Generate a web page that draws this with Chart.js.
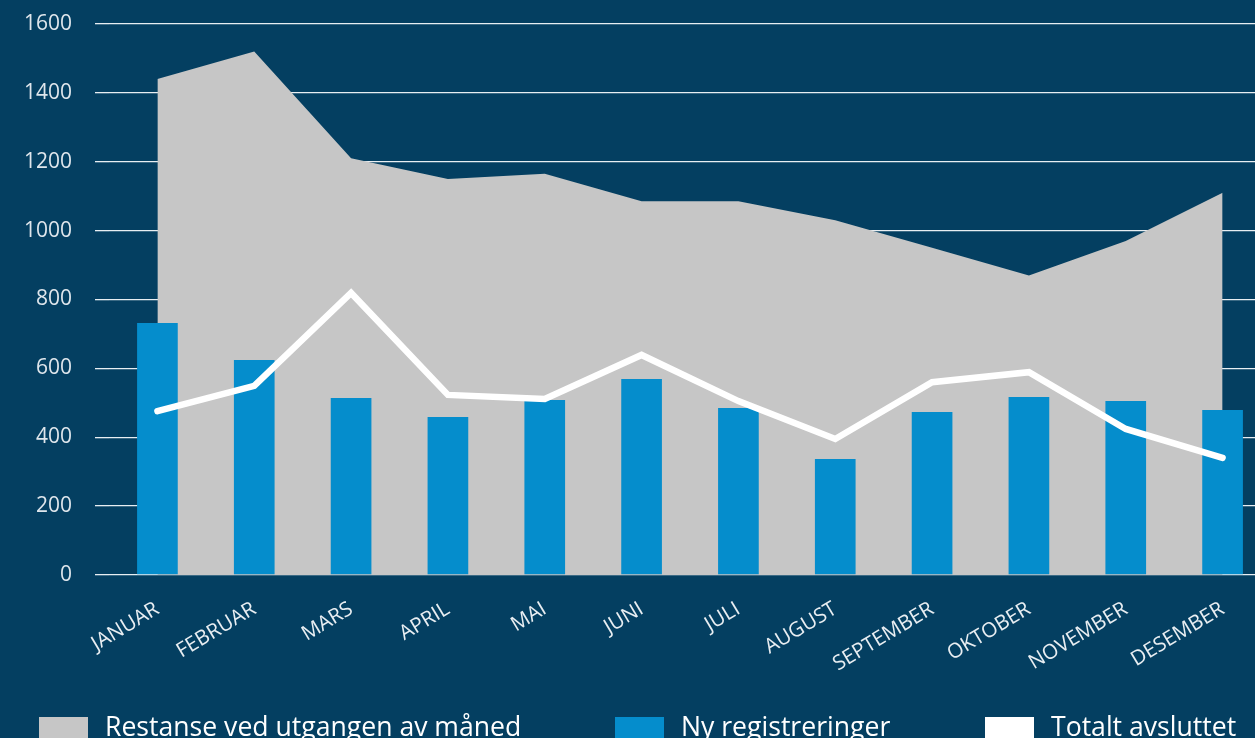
<!DOCTYPE html>
<html><head><meta charset="utf-8">
<script src="https://cdn.jsdelivr.net/npm/chart.js@4"></script>
<style>
html,body{margin:0;padding:0;background:#043f61;overflow:hidden;width:1255px;height:738px;}
#wrap{position:absolute;left:0;top:0;width:1271px;height:738px;}
#legend{position:absolute;left:0;top:0;width:1255px;height:738px;pointer-events:none;font-family:'Open Sans',sans-serif;}
.item{position:absolute;top:717px;}
.box{position:absolute;left:0;top:0;width:49px;height:24px;}
.txt{position:absolute;left:66px;top:-9.5px;font-size:26.6px;line-height:36px;white-space:nowrap;color:#ffffff;}
</style>
</head><body>
<div id="wrap"><canvas id="c" width="1271" height="738"></canvas></div>
<div id="legend"></div>
<script>
const months = ['JANUAR','FEBRUAR','MARS','APRIL','MAI','JUNI','JULI','AUGUST','SEPTEMBER','OKTOBER','NOVEMBER','DESEMBER'];
const restanse = [1440,1520,1210,1150,1165,1085,1085,1030,950,870,970,1110];
const nyRegistreringer = [732,624,514,459,508,569,485,337,473,517,505,479];
const totaltAvsluttet = [476,549,819,523,511,639,505,395,560,589,424,340];
const seriesLabels = ['Restanse ved utgangen av måned','Ny registreringer','Totalt avsluttet'];
const yTicks = [0,200,400,600,800,1000,1200,1400,1600];

const colGrey = '#c6c6c6', colBlue = '#058dcc', colWhite = '#ffffff';

const chart = new Chart(document.getElementById('c'), {
  type: 'bar',
  data: {
    labels: months,
    datasets: [
      { type:'line', label: seriesLabels[2], data: totaltAvsluttet, borderColor: colWhite, backgroundColor: colWhite,
        borderWidth: 6.5, pointRadius: 0, tension: 0, fill: false, borderCapStyle: 'round', borderJoinStyle: 'miter', order: 1 },
      { type:'bar', label: seriesLabels[1], data: nyRegistreringer, backgroundColor: colBlue, borderWidth: 0,
        barPercentage: 0.42, categoryPercentage: 1, order: 2 },
      { type:'line', label: seriesLabels[0], data: restanse, borderColor: colGrey, backgroundColor: colGrey,
        borderWidth: 0, pointRadius: 0, tension: 0, fill: 'origin', order: 3 }
    ]
  },
  options: {
    responsive: false,
    devicePixelRatio: 1,
    animation: false,
    layout: { padding: { top: 24, right: 0, bottom: 0, left: 0 } },
    plugins: { legend: { display: false }, tooltip: { enabled: false } },
    scales: {
      x: {
        grid: { display: false, drawTicks: false },
        border: { display: false },
        ticks: { color: '#e9eef2', font: { family: "'Open Sans'", size: 20.5 }, minRotation: 31, maxRotation: 31, padding: 22, autoSkip: false },
        afterFit: s => { s.height = 163; }
      },
      y: {
        min: 0, max: 1600,
        afterBuildTicks: s => { s.ticks = yTicks.map(v => ({ value: v })); },
        grid: { color: '#e8eef2', lineWidth: 1.3, tickLength: 14, drawTicks: true },
        border: { display: false },
        ticks: { color: '#dfe6ec', font: { family: "'Open Sans'", size: 21 }, padding: 23, callback: v => String(v) },
        afterFit: s => { s.width = 109; s.paddingTop = 10; s.paddingBottom = 10; }
      }
    }
  }
});

const legendColors = [colGrey, colBlue, colWhite];
const legendLeft = [39, 615, 985];
const lg = document.getElementById('legend');
seriesLabels.forEach((t, i) => {
  const it = document.createElement('div');
  it.className = 'item';
  it.style.left = legendLeft[i] + 'px';
  const b = document.createElement('div'); b.className = 'box'; b.style.background = legendColors[i];
  const s = document.createElement('span'); s.className = 'txt'; s.textContent = t;
  it.appendChild(b); it.appendChild(s); lg.appendChild(it);
});
</script>
</body></html>
